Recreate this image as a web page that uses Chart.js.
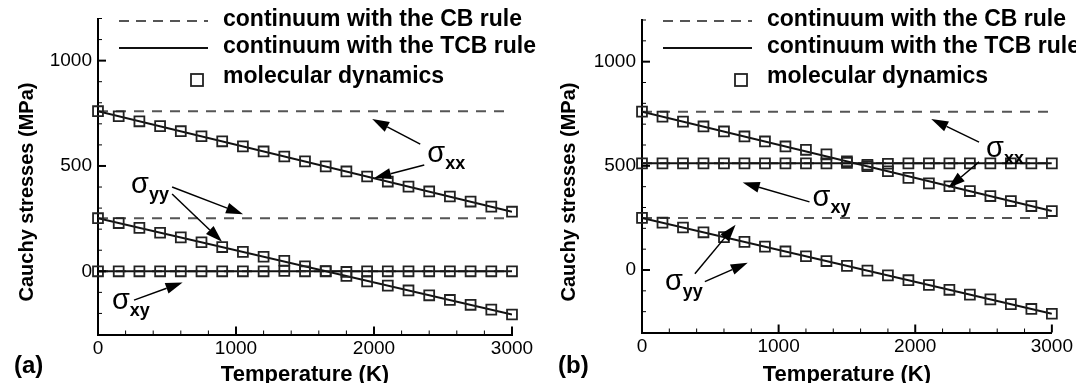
<!DOCTYPE html>
<html>
<head>
<meta charset="utf-8">
<script src="https://cdn.jsdelivr.net/npm/chart.js@4.4.1/dist/chart.umd.min.js"></script>
<style>
  html, body { margin: 0; padding: 0; background: #fff; }
  .wrap { display: flex; width: 1076px; height: 383px; }
  canvas { display: block; }
</style>
</head>
<body>
<div class="wrap">
  <canvas id="panelA" width="538" height="383"></canvas>
  <canvas id="panelB" width="538" height="383"></canvas>
</div>
<script>
// temperatures of the MD samples (K)
const temperatures = [0, 150, 300, 450, 600, 750, 900, 1050, 1200, 1350, 1500,
  1650, 1800, 1950, 2100, 2250, 2400, 2550, 2700, 2850, 3000];
// end points of the continuum lines (K)
const lineEnds = [0, 3000];

// panel (a)
const mdXxA = [760, 736, 712, 689, 665, 641, 617, 593, 569, 545, 522, 498, 474, 450, 426, 402, 379, 355, 331, 307, 283];
const mdYyA = [252, 229, 206, 183, 161, 138, 115, 92, 69, 50, 24, 1, -22, -48, -68, -91, -114, -136, -159, -182, -205];
const mdXyA = [0, 0, 0, 0, 0, 0, 0, 0, 0, 2, 0, 0, -3, 0, 0, 0, 0, 0, 0, 0, 0];
const tcbXxA = [760, 283];
const tcbYyA = [252, -205];
const tcbXyA = [0, 0];
const cbXxA = [760, 760];
const cbYyA = [252, 252];
const cbXyA = [0, 0];

// panel (b)
const mdXxB = [760, 736, 712, 689, 665, 641, 617, 593, 577, 555, 522, 498, 474, 442, 416, 402, 379, 355, 331, 307, 283];
const mdXyB = [512, 512, 512, 512, 512, 512, 512, 512, 512, 512, 514, 505, 510, 512, 512, 512, 512, 512, 512, 512, 512];
const mdYyB = [250, 227, 204, 181, 158, 135, 112, 89, 66, 43, 20, -3, -26, -49, -72, -95, -118, -141, -164, -187, -210];
const tcbXxB = [760, 283];
const tcbXyB = [512, 512];
const tcbYyB = [250, -210];
const cbXxB = [760, 760];
const cbXyB = [512, 512];
const cbYyB = [250, 250];

// axes
const xTickLabels = [0, 1000, 2000, 3000];
const yTickLabels = [0, 500, 1000];
const legendLabels = ['continuum with the CB rule', 'continuum with the TCB rule', 'molecular dynamics'];

const FONT = '"Liberation Sans", Arial, sans-serif';

function pairs(xs, ys) {
  return xs.map((x, i) => ({ x: x, y: ys[i] }));
}

function drawArrow(ctx, x1, y1, x2, y2) {
  const ang = Math.atan2(y2 - y1, x2 - x1);
  const len = 17, half = 5.5;
  const bx = x2 - len * Math.cos(ang), by = y2 - len * Math.sin(ang);
  ctx.beginPath();
  ctx.moveTo(x1, y1);
  ctx.lineTo(bx, by);
  ctx.stroke();
  ctx.beginPath();
  ctx.moveTo(x2, y2);
  ctx.lineTo(bx + half * Math.sin(ang), by - half * Math.cos(ang));
  ctx.lineTo(bx - half * Math.sin(ang), by + half * Math.cos(ang));
  ctx.closePath();
  ctx.fill();
}

// inward ticks, legend, arrows, sigma labels and titles
const decorPlugin = {
  id: 'decor',
  afterDatasetsDraw(chart, args, opts) {
    const { ctx, chartArea: area, scales: { x, y } } = chart;
    ctx.save();
    ctx.strokeStyle = '#000';
    ctx.fillStyle = '#000';

    x.ticks.forEach(t => {
      const px = x.getPixelForValue(t.value);
      const major = xTickLabels.includes(t.value);
      ctx.lineWidth = major ? 2 : 1;
      ctx.beginPath();
      ctx.moveTo(px, area.bottom);
      ctx.lineTo(px, area.bottom - (major ? 8 : 4));
      ctx.stroke();
    });
    y.ticks.forEach(t => {
      const py = y.getPixelForValue(t.value);
      const major = yTickLabels.includes(t.value);
      ctx.lineWidth = major ? 2 : 1;
      ctx.beginPath();
      ctx.moveTo(area.left, py);
      ctx.lineTo(area.left + (major ? 8 : 4), py);
      ctx.stroke();
    });

    // legend
    const lx = area.left;
    ctx.lineWidth = 2;
    ctx.strokeStyle = '#555';
    ctx.setLineDash([10, 7]);
    ctx.beginPath(); ctx.moveTo(lx + 21, 21); ctx.lineTo(lx + 110, 21); ctx.stroke();
    ctx.setLineDash([]);
    ctx.strokeStyle = '#111';
    ctx.beginPath(); ctx.moveTo(lx + 21, 48); ctx.lineTo(lx + 110, 48); ctx.stroke();
    ctx.lineWidth = 1.8;
    ctx.strokeStyle = '#222';
    ctx.strokeRect(lx + 93, 74, 12, 12);
    ctx.font = 'bold 23px ' + FONT;
    ctx.textAlign = 'left';
    ctx.textBaseline = 'alphabetic';
    ctx.fillText(legendLabels[0], lx + 125, 26);
    ctx.fillText(legendLabels[1], lx + 125, 53);
    ctx.fillText(legendLabels[2], lx + 125, 83);

    // arrows
    ctx.strokeStyle = '#000';
    ctx.lineWidth = 1.5;
    opts.arrows.forEach(a => {
      drawArrow(ctx,
        x.getPixelForValue(a.from[0]), y.getPixelForValue(a.from[1]),
        x.getPixelForValue(a.to[0]), y.getPixelForValue(a.to[1]));
    });

    // sigma labels
    opts.sigmas.forEach(s => {
      const px = x.getPixelForValue(s.at[0]);
      const py = y.getPixelForValue(s.at[1]);
      ctx.font = '29px ' + FONT;
      ctx.fillText('σ', px, py);
      const w = ctx.measureText('σ').width;
      ctx.font = 'bold 18px ' + FONT;
      ctx.fillText(s.sub, px + w, py + 7);
    });

    // axis titles and panel label
    ctx.font = 'bold 22px ' + FONT;
    ctx.textAlign = 'center';
    ctx.fillText('Temperature (K)', (area.left + area.right) / 2, 381);
    ctx.font = 'bold 24px ' + FONT;
    ctx.textAlign = 'left';
    ctx.fillText(opts.panel, opts.panelX, 373);

    ctx.save();
    ctx.translate(opts.titleX, 192);
    ctx.rotate(-Math.PI / 2);
    ctx.font = 'bold 20px ' + FONT;
    ctx.textAlign = 'center';
    ctx.textBaseline = 'middle';
    ctx.fillText('Cauchy stresses (MPa)', 0, 0);
    ctx.restore();

    ctx.restore();
  }
};

function mdSet(ys) {
  return {
    data: pairs(temperatures, ys),
    showLine: false,
    pointStyle: 'rect',
    pointRadius: 7,
    pointBorderWidth: 1.8,
    pointBorderColor: '#222',
    pointBackgroundColor: 'rgba(0,0,0,0)',
    clip: false
  };
}
function tcbSet(ys) {
  return {
    data: pairs(lineEnds, ys),
    borderColor: '#111',
    borderWidth: 2,
    pointRadius: 0
  };
}
function cbSet(ys) {
  return {
    data: pairs(lineEnds, ys),
    borderColor: '#555',
    borderWidth: 2,
    borderDash: [10, 8],
    pointRadius: 0
  };
}

function makeChart(id, datasets, geom, decor) {
  return new Chart(document.getElementById(id), {
    type: 'line',
    data: { datasets: datasets },
    plugins: [decorPlugin],
    options: {
      responsive: false,
      animation: false,
      layout: { padding: { left: 0, right: geom.right, top: geom.top, bottom: 0 } },
      plugins: {
        legend: { display: false },
        tooltip: { enabled: false },
        decor: decor
      },
      scales: {
        x: {
          type: 'linear',
          min: 0,
          max: 3000,
          grid: { display: false, drawTicks: false },
          border: { display: true, color: '#000', width: 2 },
          ticks: {
            stepSize: 200,
            autoSkip: false,
            maxRotation: 0,
            padding: 3,
            color: '#000',
            font: { family: FONT, size: 19 },
            callback: v => xTickLabels.includes(v) ? String(v) : ''
          },
          afterFit: s => { s.height = geom.xHeight; }
        },
        y: {
          type: 'linear',
          min: -300,
          max: 1200,
          grid: { display: false, drawTicks: false },
          border: { display: true, color: '#000', width: 2 },
          ticks: {
            stepSize: 100,
            autoSkip: false,
            padding: 6,
            color: '#000',
            font: { family: FONT, size: 19 },
            callback: v => yTickLabels.includes(v) ? String(v) : ''
          },
          afterFit: s => { s.width = geom.yWidth; }
        }
      }
    }
  });
}

makeChart('panelA',
  [mdSet(mdXxA), mdSet(mdYyA), mdSet(mdXyA),
   tcbSet(tcbXxA), tcbSet(tcbYyA), tcbSet(tcbXyA),
   cbSet(cbXxA), cbSet(cbYyA), cbSet(cbXyA)],
  { right: 26, top: 18.5, xHeight: 48.5, yWidth: 98 },
  {
    panel: '(a)', panelX: 14, titleX: 27.5,
    arrows: [
      { from: [2335, 604], to: [1987, 723] },
      { from: [2364, 505], to: [2001, 443] },
      { from: [537, 400], to: [1051, 271] },
      { from: [537, 367], to: [899, 140] },
      { from: [261, -137], to: [613, -53] }
    ],
    sigmas: [
      { at: [2386, 519], sub: 'xx' },
      { at: [239, 372], sub: 'yy' },
      { at: [101, -178], sub: 'xy' }
    ]
  });

makeChart('panelB',
  [mdSet(mdXxB), mdSet(mdXyB), mdSet(mdYyB),
   tcbSet(tcbXxB), tcbSet(tcbXyB), tcbSet(tcbYyB),
   cbSet(cbXxB), cbSet(cbXyB), cbSet(cbYyB)],
  { right: 23, top: 20, xHeight: 50.5, yWidth: 104 },
  {
    panel: '(b)', panelX: 20, titleX: 31.5,
    arrows: [
      { from: [2467, 614], to: [2117, 725] },
      { from: [2467, 519], to: [2241, 394] },
      { from: [1226, 327], to: [737, 420] },
      { from: [387, -18], to: [685, 217] },
      { from: [460, -56], to: [774, 35] }
    ],
    sigmas: [
      { at: [2518, 542], sub: 'xx' },
      { at: [1248, 307], sub: 'xy' },
      { at: [168, -96], sub: 'yy' }
    ]
  });
</script>
</body>
</html>
